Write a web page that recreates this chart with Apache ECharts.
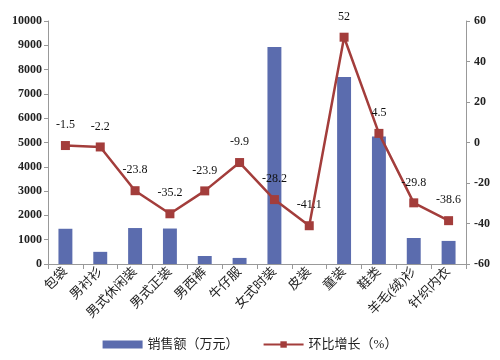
<!DOCTYPE html>
<html><head><meta charset="utf-8">
<script src="https://cdn.jsdelivr.net/npm/echarts@6/dist/echarts.min.js"></script>
<style>html,body{margin:0;padding:0;background:#fff}#c{width:500px;height:360px}</style>
</head><body><div id="c"></div>
<script>
const categories = ['包袋','男衬衫','男式休闲装','男式正装','男西裤','牛仔服','女式时装','皮装','童装','鞋类','羊毛(绒)衫','针织内衣'];
const salesValues = [1450, 500, 1480, 1460, 330, 250, 8930, 0, 7700, 5250, 1070, 950];
const growthValues = [-1.5, -2.2, -23.8, -35.2, -23.9, -9.9, -28.2, -41.1, 52, 4.5, -29.8, -38.6];
const leftTicks = [0, 10000, 1000];
const rightTicks = [-60, 60, 20];
const salesName = '销售额（万元）';
const growthName = '环比增长（%）';

const font = '"Liberation Serif","Noto Sans CJK SC",serif';
const chart = echarts.init(document.getElementById('c'));
chart.setOption({
  animation: false,
  textStyle: {fontFamily: font},
  grid: {left: 48, right: 34, top: 21, bottom: 96},
  legend: {
    bottom: 4, left: 'center', itemGap: 24, itemWidth: 40, itemHeight: 8,
    textStyle: {fontFamily: font, fontSize: 13, color: '#222'},
    data: [{name: salesName, icon: 'rect'}, {name: growthName}]
  },
  xAxis: {
    type: 'category', data: categories,
    axisLine: {lineStyle: {color: '#999'}},
    axisTick: {show: true, alignWithLabel: false, length: 5, lineStyle: {color: '#999'}},
    axisLabel: {rotate: 45, interval: 0, fontSize: 13, color: '#222', margin: 6, fontFamily: font}
  },
  yAxis: [{
    type: 'value', min: leftTicks[0], max: leftTicks[1], interval: leftTicks[2],
    splitLine: {show: false},
    axisLine: {show: true, lineStyle: {color: '#999'}},
    axisTick: {show: true, length: 4, lineStyle: {color: '#999'}},
    axisLabel: {fontSize: 12, color: '#222', fontWeight: 'bold', margin: 6, fontFamily: font,
      formatter: v => String(v)}
  }, {
    type: 'value', min: rightTicks[0], max: rightTicks[1], interval: rightTicks[2],
    position: 'right',
    splitLine: {show: false},
    axisLine: {show: true, lineStyle: {color: '#999'}},
    axisTick: {show: true, length: 4, lineStyle: {color: '#999'}},
    axisLabel: {fontSize: 12, color: '#222', fontWeight: 'bold', margin: 8, fontFamily: font}
  }],
  series: [{
    name: salesName, type: 'bar', data: salesValues, yAxisIndex: 0,
    barWidth: '40%', itemStyle: {color: '#5b6cae'}
  }, {
    name: growthName, type: 'line', data: growthValues, yAxisIndex: 1,
    symbol: 'rect', symbolSize: 9,
    lineStyle: {color: '#a33d3b', width: 2.5},
    itemStyle: {color: '#a33d3b'},
    label: {show: true, position: 'top', distance: 10, fontSize: 12, color: '#111', fontFamily: font}
  }]
});
</script></body></html>
